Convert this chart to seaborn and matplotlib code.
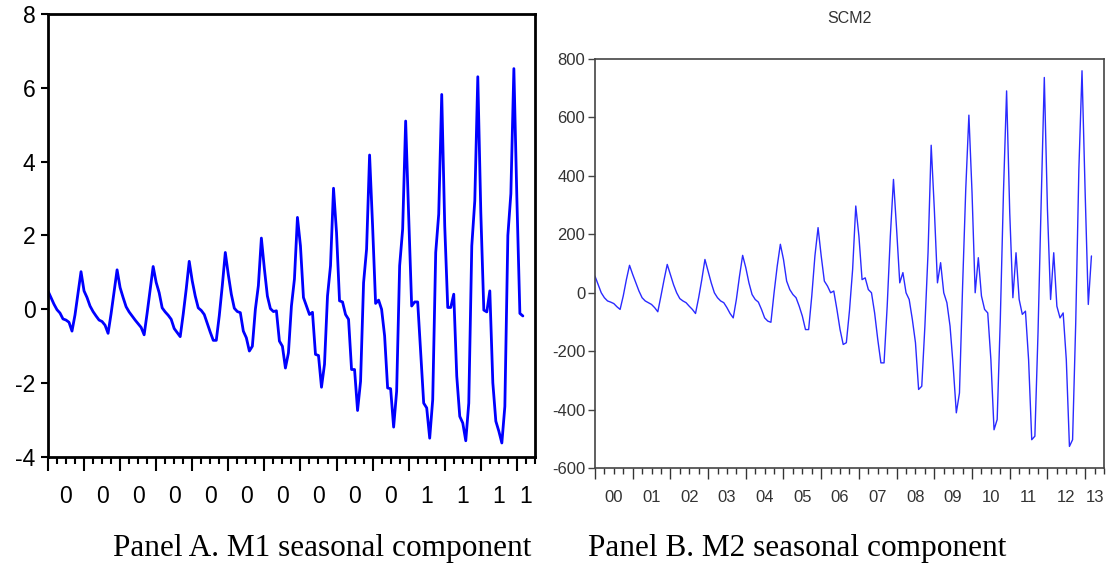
import numpy as np
import pandas as pd
import seaborn as sns
import matplotlib.pyplot as plt
from matplotlib.ticker import MultipleLocator

# Panel A: M1 seasonal component, monthly from 2000-01
m1_seasonal = [
    0.50, 0.32, 0.14, -0.01, -0.10, -0.26, -0.29, -0.35, -0.59, -0.15, 0.43, 1.02,   # 2000
    0.50, 0.32, 0.09, -0.06, -0.18, -0.29, -0.33, -0.43, -0.65, -0.12, 0.47, 1.07,   # 2001
    0.59, 0.32, 0.07, -0.07, -0.18, -0.29, -0.39, -0.49, -0.69, -0.10, 0.52, 1.16,   # 2002
    0.73, 0.45, 0.04, -0.07, -0.16, -0.27, -0.52, -0.63, -0.74, -0.13, 0.55, 1.30,   # 2003
    0.77, 0.36, 0.04, -0.03, -0.14, -0.38, -0.62, -0.84, -0.84, -0.17, 0.64, 1.54,   # 2004
    0.94, 0.41, 0.03, -0.06, -0.09, -0.59, -0.77, -1.13, -1.00, 0.00, 0.64, 1.93,    # 2005
    1.10, 0.36, 0.02, -0.06, -0.04, -0.86, -1.00, -1.59, -1.18, 0.09, 0.82, 2.49,    # 2006
    1.72, 0.32, 0.09, -0.14, -0.08, -1.22, -1.25, -2.11, -1.49, 0.36, 1.18, 3.28,    # 2007
    2.08, 0.23, 0.20, -0.14, -0.27, -1.63, -1.63, -2.74, -1.95, 0.72, 1.63, 4.18,    # 2008
    2.26, 0.16, 0.25, 0.00, -0.72, -2.13, -2.15, -3.19, -2.22, 1.18, 2.17, 5.10,     # 2009
    2.54, 0.09, 0.20, 0.20, -1.18, -2.54, -2.67, -3.49, -2.45, 1.54, 2.58, 5.82,     # 2010
    2.26, 0.05, 0.05, 0.41, -1.81, -2.90, -3.08, -3.56, -2.54, 1.72, 2.94, 6.30,     # 2011
    2.63, -0.02, -0.07, 0.50, -1.99, -3.03, -3.30, -3.62, -2.63, 2.00, 3.13, 6.52,   # 2012
    3.00, -0.11, -0.18,                                                              # 2013
]

# Panel B: M2 seasonal component (SCM2), monthly from 2000-01
scm2 = [
    57, 28, 0, -17, -28, -32, -37, -48, -57, -11, 45, 94,              # 2000
    63, 34, 6, -17, -28, -34, -40, -51, -65, -11, 45, 97,              # 2001
    63, 28, 0, -20, -28, -34, -46, -57, -71, -17, 45, 114,             # 2002
    74, 34, 0, -17, -28, -34, -51, -71, -86, -23, 57, 128,             # 2003
    86, 34, -6, -23, -32, -57, -86, -97, -101, 0, 91, 166,             # 2004
    114, 40, 11, -6, -17, -46, -80, -126, -126, -11, 126, 223,         # 2005
    126, 40, 23, 0, 6, -57, -126, -177, -171, -61, 80, 297,            # 2006
    194, 45, 51, 11, 0, -69, -160, -240, -240, -46, 194, 388,          # 2007
    217, 34, 69, 0, -23, -91, -171, -331, -320, -114, 137, 505,        # 2008
    286, 34, 103, 0, -34, -114, -251, -411, -343, 23, 354, 608,        # 2009
    343, 0, 120, -11, -57, -69, -229, -469, -434, -91, 343, 691,       # 2010
    274, -17, 137, -23, -74, -63, -229, -503, -491, -137, 309, 737,    # 2011
    286, -23, 137, -46, -86, -69, -229, -526, -503, -103, 423, 760,    # 2012
    343, -40, 126,                                                     # 2013
]

years = list(range(2000, 2014))
year_labels_b = ["00", "01", "02", "03", "04", "05", "06",
                 "07", "08", "09", "10", "11", "12", "13"]
year_labels_a = ["0", "0", "0", "0", "0", "0", "0",
                 "0", "0", "0", "1", "1", "1", "1"]

df = pd.DataFrame({
    "t": 2000 + np.arange(len(m1_seasonal)) / 12,
    "m1": m1_seasonal,
    "m2": scm2,
})

sns.set_style("ticks")
plt.rcParams["font.family"] = ["Liberation Sans", "DejaVu Sans"]
plt.rcParams["axes.unicode_minus"] = False
plt.rcParams["text.color"] = "black"
plt.rcParams["xtick.color"] = "black"
plt.rcParams["ytick.color"] = "black"

fig = plt.figure(figsize=(11.1, 5.68), dpi=100)
ax_a = fig.add_axes([0.0432, 0.1954, 0.4387, 0.780])
ax_b = fig.add_axes([0.536, 0.176, 0.4586, 0.720])

x_end = 2013.5
centers = [y + 0.5 for y in years[:-1]] + [(years[-1] + x_end) / 2]


def year_axis(ax, labels, size, color, major_len, minor_len, width, pad):
    ax.set_xlim(2000, x_end)
    ax.xaxis.set_major_locator(MultipleLocator(1))
    ax.xaxis.set_minor_locator(MultipleLocator(0.25))
    ax.tick_params(axis="x", which="major", length=major_len, width=width,
                   labelbottom=False, color=color)
    ax.tick_params(axis="x", which="minor", length=minor_len, width=width,
                   color=color)
    sec = ax.secondary_xaxis("bottom")
    sec.set_xticks(centers, labels)
    sec.tick_params(length=0, pad=pad, labelsize=size, labelcolor=color)
    sec.spines["bottom"].set_visible(False)
    return sec


# Panel A
sns.lineplot(data=df, x="t", y="m1", ax=ax_a, color="#0000ff", lw=2.0)
ax_a.set_ylim(-4, 8)
ax_a.yaxis.set_major_locator(MultipleLocator(2))
ax_a.set_xlabel("")
ax_a.set_ylabel("")
for s in ax_a.spines.values():
    s.set_linewidth(2.0)
    s.set_color("black")
ax_a.tick_params(axis="y", length=5, width=1.5, labelsize=16.5, pad=4,
                 labelcolor="black")
year_axis(ax_a, year_labels_a, 16.5, "black", 10, 5, 1.5, 20)

# Panel B
sns.lineplot(data=df, x="t", y="m2", ax=ax_b, color="#2a2aff", lw=1.0)
ax_b.set_ylim(-600, 800)
ax_b.yaxis.set_major_locator(MultipleLocator(200))
ax_b.set_xlabel("")
ax_b.set_ylabel("")
for s in ax_b.spines.values():
    s.set_linewidth(1.2)
    s.set_color("#444444")
ax_b.tick_params(axis="y", length=5, width=1.0, labelsize=12, pad=2,
                 color="#444444", labelcolor="#333333")
for lab in ax_b.get_yticklabels():
    lab.set_family(["Liberation Sans Narrow", "Liberation Sans"])
sec_b = year_axis(ax_b, year_labels_b, 12, "#333333", 8, 4, 1.0, 16)
for lab in sec_b.get_xticklabels():
    lab.set_family(["Liberation Sans Narrow", "Liberation Sans"])
ax_b.set_title("SCM2", fontsize=11.5, color="#333333", pad=26)

# Captions
fig.text(0.290, 0.035, "Panel A. M1 seasonal component", ha="center",
         va="center", fontsize=22.5, family="Liberation Serif", color="black")
fig.text(0.718, 0.035, "Panel B. M2 seasonal component", ha="center",
         va="center", fontsize=22.5, family="Liberation Serif", color="black")

fig.savefig("out.png", dpi=100)
